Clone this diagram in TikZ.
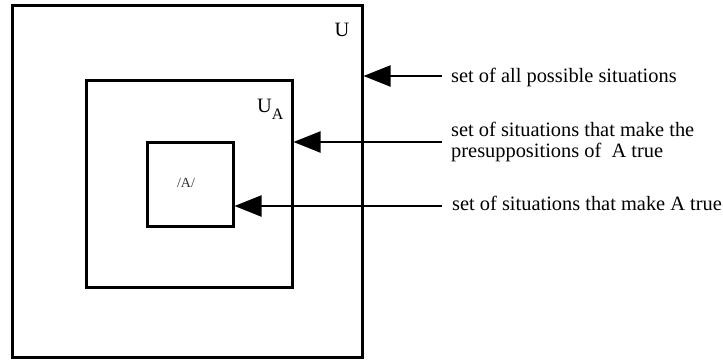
\documentclass[tikz,border=0pt]{standalone}
\usepackage{fontspec}
\setmainfont{Liberation Serif}
\usetikzlibrary{arrows.meta}
\begin{document}
\begin{tikzpicture}[x=1pt,y=-1pt,
  box/.style={draw, line width=3pt, inner sep=0pt, rectangle},
  ptr/.style={line width=2.2pt, -{Triangle[length=27pt,width=21pt]}},
  lbl/.style={font=\fontsize{20.4}{21}\selectfont, inner sep=0pt, align=left},
  sym/.style={font=\fontsize{20.4}{21}\selectfont, inner sep=0pt}]
\useasboundingbox (0,0) rectangle (723,360);
% squares
\node[box, minimum width=350pt, minimum height=352pt] (U) at (187,181) {};
\node[box, minimum width=206pt, minimum height=207pt] (UA) at (189,183.5) {};
\node[box, minimum width=86pt, minimum height=84pt] (A) at (190,184) {};
% inner labels
\node[sym] (lU) at (342,30) {U};
\node[sym, anchor=base west] (lUA) at (257,112) {U\raisebox{-7pt}{\fontsize{16}{16}\selectfont A}};
\node[inner sep=0pt, font=\fontsize{14}{14}\selectfont, text=black!80] (lA) at (186,183) {/A/};
% descriptions
\node[lbl, anchor=base west] (t1) at (451,82) {set of all possible situations};
\node[lbl, anchor=west] (t2) at (451,142) {set of situations that make the\\presuppositions of\ \ A true};
\node[lbl, anchor=base west] (t3) at (452,210) {set of situations that make A true};
% pointers
\coordinate (a1) at (442,76);
\coordinate (a2) at (442,142);
\coordinate (a3) at (442,206);
\draw[ptr] (a1) -- (U.east |- a1);
\draw[ptr] (a2) -- (UA.east |- a2);
\draw[ptr] (a3) -- (A.east |- a3);
\end{tikzpicture}
\end{document}
